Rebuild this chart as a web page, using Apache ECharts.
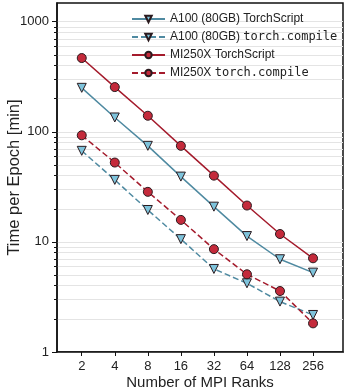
<!DOCTYPE html>
<html>
<head>
<meta charset="utf-8">
<script src="https://cdn.jsdelivr.net/npm/echarts@6/dist/echarts.min.js"></script>
<style>
  html, body { margin: 0; padding: 0; background: #fff; }
  #chart { width: 348px; height: 390px; }
</style>
</head>
<body>
<div id="chart"></div>
<script>
var ranks = [2, 4, 8, 16, 32, 64, 128, 256];
var a100Script = [251, 135, 74.6, 39.2, 20.9, 11.3, 6.96, 5.26];
var a100Compile = [67.2, 36.6, 19.5, 10.6, 5.68, 4.21, 2.87, 2.17];
var mi250Script = [468, 255, 140, 74.6, 40, 21.4, 11.8, 7.1];
var mi250Compile = [93, 52.6, 28.5, 15.85, 8.6, 5.08, 3.58, 1.82];
var yMajor = [1, 10, 100, 1000];

var yMinor = [];
for (var d = 1; d <= 100; d *= 10) {
  for (var k = 2; k <= 9; k++) yMinor.push(k * d);
}

function pairs(vals) {
  return ranks.map(function (r, i) { return [r, vals[i]]; });
}

var blueLine = '#4f8aa1', blueFill = '#7ec3db';
var redLine = '#a41b2c', redFill = '#c42a3b';
var edge = '#2a1a1e';
var font = 'Liberation Sans';

function mkSeries(name, vals, dashed, isBlue) {
  return {
    name: name,
    type: 'line',
    data: pairs(vals),
    symbol: isBlue ? 'triangle' : 'circle',
    symbolRotate: isBlue ? 180 : 0,
    symbolSize: 9,
    lineStyle: { color: isBlue ? blueLine : redLine, width: 1.5, type: dashed ? [6, 3] : 'solid' },
    itemStyle: { color: isBlue ? blueFill : redFill, borderColor: edge, borderWidth: 1 },
    z: 3
  };
}

var option = {
  animation: false,
  grid: { left: 57, top: 3, right: 5, bottom: 38, show: true, borderColor: '#111', borderWidth: 1.5, containLabel: false, outerBoundsMode: 'none' },
  legend: {
    left: 126, top: 8, orient: 'vertical',
    itemWidth: 33, itemHeight: 8, itemGap: 6,
    textStyle: {
      fontFamily: font, fontSize: 12, color: '#222',
      rich: { m: { fontFamily: 'DejaVu Sans Mono', fontSize: 12, color: '#222' } }
    },
    formatter: function (n) {
      return n.replace('torch.compile', '{m|torch.compile}');
    }
  },
  xAxis: {
    type: 'log', logBase: 2, min: 1.19, max: 480,
    name: 'Number of MPI Ranks', nameLocation: 'middle', nameGap: 23, nameMoveOverlap: false,
    nameTextStyle: { fontFamily: font, fontSize: 15, color: '#222' },
    axisLine: { lineStyle: { color: '#111', width: 1.5 } },
    axisTick: { show: true, length: 4, customValues: ranks, lineStyle: { color: '#111' } },
    axisLabel: { customValues: ranks, margin: 8, fontFamily: font, fontSize: 13, color: '#222', formatter: function (v) { return String(Math.round(v)); } },
    splitLine: { show: false }
  },
  yAxis: [{
    type: 'log', logBase: 10, min: 1, max: 1480,
    name: 'Time per Epoch [min]', nameLocation: 'middle', nameGap: 34, nameMoveOverlap: false,
    nameTextStyle: { fontFamily: font, fontSize: 16.5, color: '#222' },
    axisLine: { show: true, lineStyle: { color: '#111', width: 1.5 } },
    axisTick: { show: true, length: 5, customValues: yMajor, lineStyle: { color: '#111' } },
    axisLabel: { customValues: yMajor, margin: 8, fontFamily: font, fontSize: 13, color: '#222', formatter: function (v) { return String(Math.round(v)); } },
    splitLine: { show: true, lineStyle: { color: '#e4e4e4', width: 1 } }
  }, {
    type: 'log', logBase: 10, min: 1, max: 1480, position: 'left',
    axisLine: { show: false },
    axisTick: { show: true, length: 3, customValues: yMinor, lineStyle: { color: '#111' } },
    axisLabel: { show: false },
    splitLine: { show: true, lineStyle: { color: '#e4e4e4', width: 1 } }
  }],
  series: [
    mkSeries('A100 (80GB) TorchScript', a100Script, false, true),
    mkSeries('A100 (80GB) torch.compile', a100Compile, true, true),
    mkSeries('MI250X TorchScript', mi250Script, false, false),
    mkSeries('MI250X torch.compile', mi250Compile, true, false)
  ]
};

var myChart = echarts.init(document.getElementById('chart'));
myChart.setOption(option);
</script>
</body>
</html>
